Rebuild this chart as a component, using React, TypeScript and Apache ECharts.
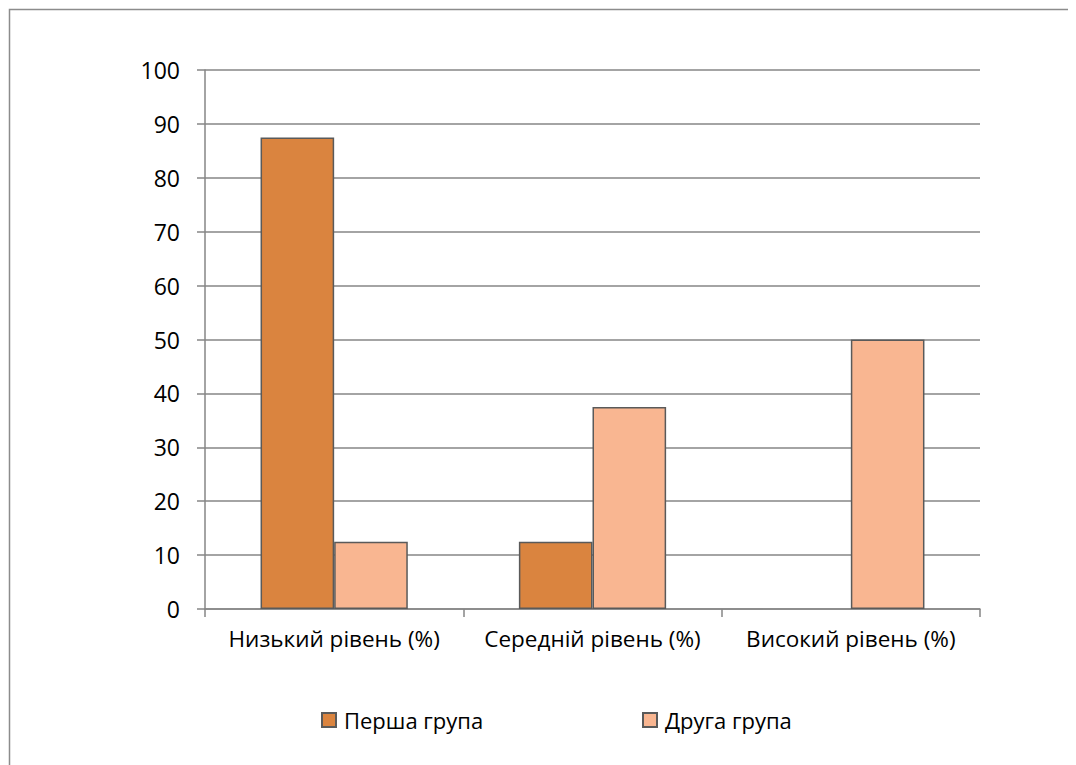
import React, { useEffect, useRef } from "react";
import * as echarts from "echarts";

const categories = ["Низький рівень (%)", "Середній рівень (%)", "Високий рівень (%)"];
const seriesNames = ["Перша група", "Друга група"];
const firstGroup = [87.5, 12.5, 0];
const secondGroup = [12.5, 37.5, 50];
const yTicks = { min: 0, max: 100, interval: 10 };

const FONT = "'Open Sans', 'Noto Sans', sans-serif";
const GRAY = "#868686";

const toData = (arr: number[]) =>
  arr.map((v) => (v === 0 ? { value: v, itemStyle: { borderWidth: 0 } } : v));

export default function App() {
  const ref = useRef<HTMLDivElement>(null);
  useEffect(() => {
    if (!ref.current) return;
    const chart = echarts.init(ref.current, undefined, { renderer: "svg" });
    chart.setOption({
      animation: false,
      backgroundColor: "#ffffff",
      textStyle: { fontFamily: FONT },
      graphic: [
        {
          type: "rect",
          shape: { x: 1.5, y: 1.5, width: 1200, height: 1200 },
          style: { fill: "none", stroke: "#8c8c8c", lineWidth: 1.5 },
          silent: true,
        },
      ],
      grid: { left: 197, top: 62, right: 96, bottom: 156, containLabel: false },
      legend: [
        {
          data: [seriesNames[0]],
          left: 308,
          top: 696,
          itemWidth: 14,
          itemHeight: 14,
          icon: "rect",
          textStyle: { fontFamily: FONT, fontSize: 22, color: "#000", padding: [0, 0, 0, 3] },
        },
        {
          data: [seriesNames[1]],
          left: 629,
          top: 696,
          itemWidth: 14,
          itemHeight: 14,
          icon: "rect",
          textStyle: { fontFamily: FONT, fontSize: 22, color: "#000", padding: [0, 0, 0, 3] },
        },
      ],
      xAxis: {
        type: "category",
        data: categories,
        axisLine: { lineStyle: { color: GRAY, width: 1.5 } },
        axisTick: { show: true, length: 8, lineStyle: { color: GRAY, width: 1.5 } },
        axisLabel: {
          fontFamily: FONT,
          fontSize: 22.5,
          color: "#000",
          margin: 18,
          interval: 0,
          hideOverlap: false,
        },
      },
      yAxis: {
        type: "value",
        min: yTicks.min,
        max: yTicks.max,
        interval: yTicks.interval,
        axisLine: { show: true, lineStyle: { color: GRAY, width: 1.5 } },
        axisTick: { show: true, length: 8, lineStyle: { color: GRAY, width: 1.5 } },
        splitLine: { show: true, lineStyle: { color: GRAY, width: 1.5 } },
        axisLabel: { fontFamily: FONT, fontSize: 23, color: "#000", margin: 25 },
      },
      series: [
        {
          name: seriesNames[0],
          type: "bar",
          data: toData(firstGroup),
          barGap: "0%",
          barCategoryGap: "43%",
          itemStyle: { color: "#DA843F", borderColor: "#5a5a5a", borderWidth: 1.5 },
        },
        {
          name: seriesNames[1],
          type: "bar",
          data: toData(secondGroup),
          barGap: "0%",
          barCategoryGap: "43%",
          itemStyle: { color: "#F9B691", borderColor: "#5a5a5a", borderWidth: 1.5 },
        },
      ],
    });
    return () => chart.dispose();
  }, []);
  return <div ref={ref} style={{ width: 1068, height: 757 }} />;
}
